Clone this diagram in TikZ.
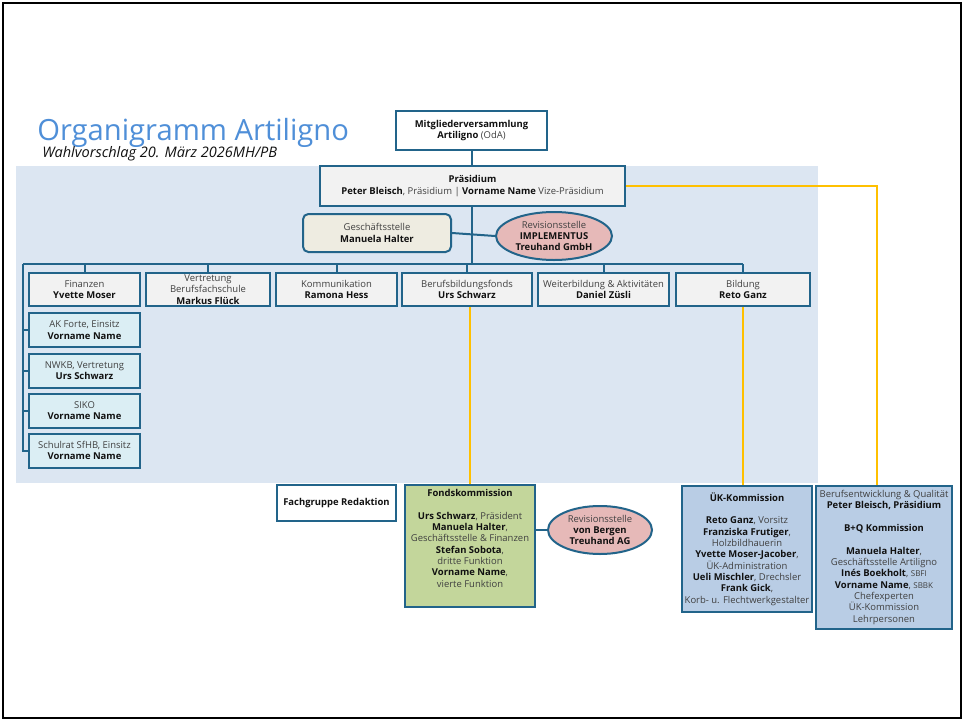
\documentclass[tikz,border=0pt]{standalone}
\usepackage{fontspec}
\setmainfont{Open Sans}
\usetikzlibrary{shapes.geometric}
\definecolor{frameblue}{HTML}{22648A}
\definecolor{bgblue}{HTML}{DCE6F2}
\definecolor{boxgray}{HTML}{F2F2F2}
\definecolor{gsfill}{HTML}{EEECE1}
\definecolor{revfill}{HTML}{E6B9B8}
\definecolor{subfill}{HTML}{DBEEF4}
\definecolor{greenfill}{HTML}{C3D69B}
\definecolor{bluefill}{HTML}{B9CDE5}
\definecolor{yel}{HTML}{FFC000}
\definecolor{titleblue}{HTML}{4F8FD8}
\definecolor{txtgray}{HTML}{404040}
\definecolor{txtdark}{HTML}{111111}
\newcommand{\boldname}[1]{\textcolor{txtdark}{\textbf{#1}}}
\newcommand{\smalltxt}[1]{{\fontsize{6}{8.5}\selectfont #1}}
\tikzset{
  sz/.style 2 args={minimum width=#1*0.75pt, minimum height=#2*0.75pt},
  box/.style={draw=frameblue, line width=1.5pt, inner sep=0pt, align=center,
    text=txtgray, font=\fontsize{7.1}{8.5}\selectfont},
  ell/.style={box, ellipse, fill=revfill},
  conn/.style={draw=frameblue, line width=1.5pt},
  yconn/.style={draw=yel, line width=1.5pt},
}
\begin{document}
\begin{tikzpicture}[x=0.75pt,y=-0.75pt]
\useasboundingbox (0,0) rectangle (964,721);
\fill[white] (0,0) rectangle (964,721);
\draw[black, line width=1.5pt] (3,3) rectangle (961,718);
\fill[bgblue] (16,166) rectangle (818,483);

% title
\node[anchor=base west, inner sep=0pt, text=titleblue, font=\fontsize{21.9}{24}\selectfont] (title) at (37,140) {Organigramm Artiligno};
\node[anchor=base west, inner sep=0pt, text=txtdark, font=\fontsize{10.9}{12}\selectfont\itshape] (sub) at (42,157) {Wahlvorschlag 20. März 2026MH/PB};

% connectors (drawn first, nodes on top)
\coordinate (busL) at (23,264);
\coordinate (busR) at (743,264);
\coordinate (busC) at (471.5,264);
\coordinate (yc) at (877,186);

% top
\node[box, fill=white, sz={151}{39}] (mv) at (471.5,130.5) {\boldname{Mitgliederversammlung}\\\boldname{Artiligno} (OdA)};
\node[box, fill=boxgray, sz={305}{40}] (pr) at (472.5,186) {\boldname{Präsidium}\\\boldname{Peter Bleisch}, Präsidium | \boldname{Vorname Name} Vize-Präsidium};
\node[box, fill=gsfill, rounded corners=4pt, sz={148}{38}] (gs) at (377,233) {Geschäftsstelle\\\boldname{Manuela Halter}};
\node[ell, sz={116}{48}] (rev1) at (554,236) {Revisionsstelle\\\boldname{IMPLEMENTUS}\\\boldname{Treuhand GmbH}};

% row
\node[box, fill=boxgray, sz={111}{33}] (fin) at (84.5,289.5) {Finanzen\\\boldname{Yvette Moser}};
\node[box, fill=boxgray, sz={124}{33}] (vbs) at (208,289.5) {Vertretung\\Berufsfachschule\\\boldname{Markus Flück}};
\node[box, fill=boxgray, sz={121}{33}] (kom) at (336.5,289.5) {Kommunikation\\\boldname{Ramona Hess}};
\node[box, fill=boxgray, sz={130}{33}] (bbf) at (467,289.5) {Berufsbildungsfonds\\\boldname{Urs Schwarz}};
\node[box, fill=boxgray, sz={131}{33}] (wba) at (603.5,289.5) {Weiterbildung \& Aktivitäten\\\boldname{Daniel Züsli}};
\node[box, fill=boxgray, sz={134}{33}] (bil) at (743,289.5) {Bildung\\\boldname{Reto Ganz}};

% sub boxes
\node[box, fill=subfill, sz={111}{34}] (ak) at (84.5,330) {AK Forte, Einsitz\\\boldname{Vorname Name}};
\node[box, fill=subfill, sz={111}{34}] (nw) at (84.5,370.5) {NWKB, Vertretung\\\boldname{Urs Schwarz}};
\node[box, fill=subfill, sz={111}{34}] (si) at (84.5,410.5) {SIKO\\\boldname{Vorname Name}};
\node[box, fill=subfill, sz={111}{34}] (sr) at (84.5,450.5) {Schulrat SfHB, Einsitz\\\boldname{Vorname Name}};

% bottom
\node[box, fill=white, sz={119}{36}] (fg) at (336.5,503) {\boldname{Fachgruppe Redaktion}};
\node[box, fill=greenfill, sz={130}{122}] (fk) at (470,546) {\boldname{Fondskommission}\\[8.5pt]\boldname{Urs Schwarz}, Präsident\\\boldname{Manuela Halter},\\Geschäftsstelle \& Finanzen\\\boldname{Stefan Sobota},\\dritte Funktion\\\boldname{Vorname Name},\\vierte Funktion\\[3pt]};
\node[ell, sz={104}{48}] (rev2) at (600,530) {Revisionsstelle\\\boldname{von Bergen}\\\boldname{Treuhand AG}};
\node[box, fill=bluefill, sz={130}{126}] (uek) at (747,549) {\boldname{ÜK-Kommission}\\[8.5pt]\boldname{Reto Ganz}, Vorsitz\\\boldname{Franziska Frutiger},\\Holzbildhauerin\\\boldname{Yvette Moser-Jacober},\\ÜK-Administration\\\boldname{Ueli Mischler}, Drechsler\\\boldname{Frank Gick},\\Korb- u. Flechtwerkgestalter};
\node[box, fill=bluefill, sz={136}{143}] (bq) at (884,557.5) {Berufsentwicklung \& Qualität\\\boldname{Peter Bleisch, Präsidium}\\[8.5pt]\boldname{B+Q Kommission}\\[8.5pt]\boldname{Manuela Halter},\\Geschäftsstelle Artiligno\\\boldname{Inés Boekholt}, \smalltxt{SBFI}\\\boldname{Vorname Name}, \smalltxt{SBBK}\\Chefexperten\\ÜK-Kommission\\Lehrpersonen};

\draw[conn] (mv.south) -- (mv.south |- pr.north);
\draw[conn] (pr.south -| busC) -- (busC);
\draw[conn] (gs.east) -- (rev1.west);
\draw[conn] (busL) -- (busR);
\foreach \n in {fin,vbs,kom,bbf,wba,bil} {
  \draw[conn] (\n.north) -- (\n.north |- busL);
}
\draw[conn] (busL) |- (sr.west);
\foreach \n in {ak,nw,si} {
  \draw[conn] (\n.west) -- (\n.west -| busL);
}
\draw[conn] (rev2.west -| fk.east) -- (rev2.west);

\draw[yconn] (bbf.south -| fk.north) -- (fk.north);
\draw[yconn] (bil.south) -- (bil.south |- uek.north);
\draw[yconn] (pr.east) -- (yc) -- (yc |- bq.north);
\end{tikzpicture}
\end{document}
